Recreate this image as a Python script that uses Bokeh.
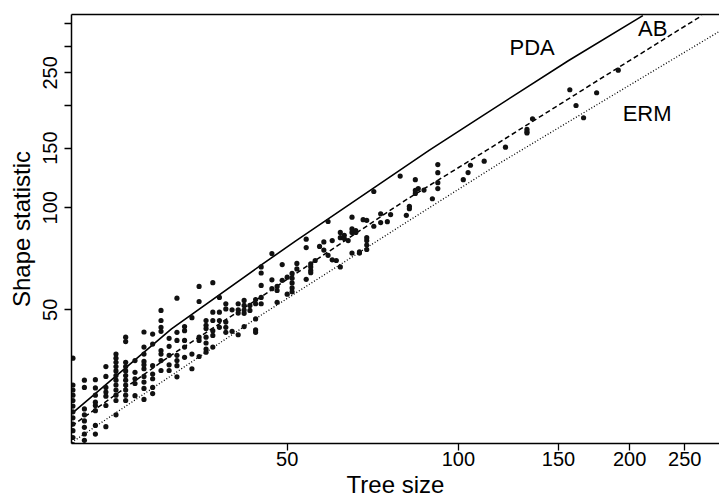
import math
from bokeh.plotting import figure
from bokeh.models import FixedTicker, LogAxis, Label, Range1d
from bokeh.embed import file_html
from bokeh.resources import INLINE

# ---- data ----
sizes = [21, 22, 23, 24, 25, 26, 27, 28, 29, 30, 31, 32, 33, 34, 35, 36, 37, 38, 39, 40,
         41, 42, 43, 44, 45, 47, 48, 49, 50, 51, 52, 54, 55, 56, 57, 58, 59, 60, 61, 62,
         63, 64, 65, 66, 67, 68, 69, 71, 73, 75, 76, 79, 81, 82, 84, 85, 87, 90, 92, 102,
         104, 105, 111, 121, 132, 135, 157, 161, 166, 175, 191]
stats = [
    [20, 21, 22, 23, 24, 25, 26, 27, 28, 29, 30, 36],
    [20.6, 21.5, 22.5, 23.5, 24.5, 25.5, 29.5, 31],
    [21.5, 22.8, 25.2, 26.1, 26.7, 28.0, 29.4, 31.1],
    [22.6, 26.1, 27.8, 28.6, 29.5, 31.8, 34.0],
    [24.5, 27, 28, 29, 30, 31, 32, 33, 34, 35, 36, 37],
    [27, 28, 29, 30, 31, 32, 33, 34, 35, 40.3, 41.5],
    [27.9, 30.3, 31.3, 32.7, 35.4],
    [27.2, 29.3, 30.6, 31.8, 33.5, 34.4, 35.2, 37, 38.8, 43],
    [28.3, 29.5, 31.3, 32.3, 34.2, 39.6, 42.4],
    [33.1, 35.4, 37.0, 37.9, 43.2, 44.4, 46.5, 49.8],
    [33.1, 34.4, 36.7, 39.0, 41.2],
    [31.7, 34.2, 35.4, 36.7, 40.6, 42.9, 54.1],
    [36.2, 38.8, 40.6, 43.4, 44.6],
    [33.5, 37.0, 47.4],
    [36.4, 40.6, 41.5, 52.9, 58.6],
    [37.5, 38.3, 39.9, 41.5, 44.0, 45.0, 46.5],
    [38.8, 42.0, 43.4, 46.5, 49.2, 60.1],
    [44.4, 46.5, 49.2, 54.4],
    [42.9, 44.4, 46.0, 50.3, 52.1],
    [43.2, 50.0],
    [42.2, 48.9, 50.0, 52.1],
    [44.6, 48.8, 49.9, 51.5, 53.3],
    [49.8, 51.5],
    [42.9, 43.6, 47.0, 52.1, 53.6],
    [52.1, 54.4, 59.0, 64.2, 66.9],
    [57.7, 61.3, 73.2],
    [52.6, 57.0, 58.6],
    [61.1, 68.0],
    [55.6, 62.4],
    [56.5, 58, 60, 62, 64],
    [66, 68.5],
    [61.5, 76.3, 80.8],
    [64.3, 65.3, 66.9, 68.3],
    [69.9],
    [76.9],
    [75.0, 79.3],
    [72.4, 91.1],
    [70.2, 80.0],
    [69.9],
    [66.9, 81.6, 84.6],
    [81.1, 82.9],
    [80.0],
    [73.5, 84.6, 86.6, 93.8],
    [84.6, 85.7],
    [73.5, 74.1],
    [92.2],
    [75.3, 77.6, 80.0, 81.6, 91.8],
    [88.2, 111.7],
    [90.4, 96.0],
    [91.0],
    [95.5],
    [124],
    [95],
    [99.4, 101],
    [110.2, 112.5, 121],
    [113.9],
    [112.8],
    [106.3],
    [113.9, 118.6, 126.9, 134.1],
    [121],
    [127],
    [133.5],
    [137.2],
    [150.9],
    [166.3, 167.7, 170.4],
    [183.1],
    [222.9],
    [200.3],
    [184.3],
    [218.4],
    [254.6],
]

pda_x = [20.9, 31.3, 44.9, 51.7, 88.8, 109.7, 156.3, 211]
pda_y = [24.7, 43.9, 67.6, 79.7, 147.6, 185.8, 272, 369]
ab_x = [20.9, 31.0, 44.9, 80.5, 112, 181.1, 268]
ab_y = [22.7, 36.4, 54.5, 105, 147.6, 245, 369]
erm_x = [20.9, 31.3, 44.9, 80.5, 119, 181, 289]
erm_y = [20.3, 32.0, 48.1, 90.0, 136.3, 208, 333]

x_ticks = [50, 100, 150, 200, 250]
y_ticks = [50, 100, 150, 200, 250, 300, 350]
y_hidden = [200, 300, 350]

tree_size = [s for s, vals in zip(sizes, stats) for _ in vals]
shape_stat = [v for vals in stats for v in vals]

FONT = "Liberation Sans"

p = figure(width=719, height=502, x_axis_type="log", y_axis_type="log",
           x_range=Range1d(20.88, 287.8), y_range=Range1d(20.16, 371.7),
           output_backend="svg", toolbar_location=None,
           min_border_left=71, min_border_right=0, min_border_top=14,
           min_border_bottom=59, background_fill_color="white",
           border_fill_color="white")
p.outline_line_color = None
p.xgrid.visible = False
p.ygrid.visible = False

for ax in (p.xaxis[0], p.yaxis[0]):
    ax.axis_line_width = 1.5
    ax.axis_line_color = "black"
    ax.major_tick_line_color = "black"
    ax.major_tick_line_width = 1.3
    ax.major_tick_out = 7
    ax.major_tick_in = 0
    ax.minor_tick_line_color = None
    ax.major_label_text_font = FONT
    ax.major_label_text_font_size = "20px"
    ax.major_label_text_color = "black"
    ax.axis_label_text_font = FONT
    ax.axis_label_text_font_size = "24px"
    ax.axis_label_text_font_style = "normal"
    ax.axis_label_text_color = "black"

p.xaxis.ticker = FixedTicker(ticks=x_ticks, minor_ticks=[])
p.yaxis.ticker = FixedTicker(ticks=y_ticks, minor_ticks=[])
p.yaxis.major_label_overrides = {t: "" for t in y_hidden}
p.yaxis.major_label_orientation = "parallel"
p.xaxis.major_label_standoff = 1
p.yaxis.major_label_standoff = 7
p.xaxis.axis_label_standoff = 2
p.yaxis.axis_label_standoff = 6
p.xaxis.axis_label = "Tree size"
p.yaxis.axis_label = "Shape statistic"

top = LogAxis(ticker=FixedTicker(ticks=[], minor_ticks=[]),
              major_label_text_font_size="0px", axis_line_width=1.5,
              axis_line_color="black", major_tick_line_color=None,
              minor_tick_line_color=None)
p.add_layout(top, "above")

p.line(pda_x, pda_y, line_color="black", line_width=1.6)
p.line(ab_x, ab_y, line_color="black", line_width=1.5, line_dash="5 3")
p.line(erm_x, erm_y, line_color="black", line_width=1.3, line_dash="1 2")

p.scatter(tree_size, shape_stat, size=5.2, fill_color="#111111",
          line_color="#111111", line_width=0)

for txt, lx, ly in (("PDA", 134.8, 298.0), ("AB", 219.6, 339.0), ("ERM", 214.7, 189.5)):
    p.add_layout(Label(x=lx, y=ly, text=txt, text_align="center",
                       text_baseline="alphabetic", text_font=FONT,
                       text_font_size="22px", text_color="black"))

open("out.html", "w").write(file_html(p, INLINE))
